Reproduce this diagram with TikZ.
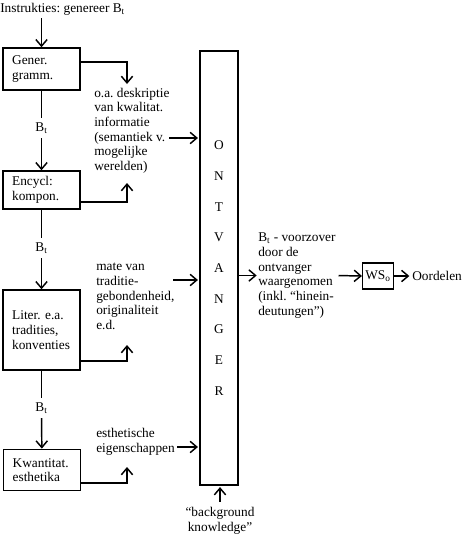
\documentclass[tikz,border=0pt]{standalone}
\usepackage{fontspec}
\setmainfont{Liberation Serif}
\usetikzlibrary{arrows.meta}
\frenchspacing

\begin{document}
\begin{tikzpicture}[x=0.75pt,y=-0.75pt,
        font=\fontsize{10}{11}\selectfont,
        arr/.style={-{Straight Barb[length=5pt,width=8.5pt]},line width=1.1pt},
        lijn/.style={line width=1.1pt},
        blok/.style={draw,line width=1.1pt,align=left,text width=44pt,inner xsep=7pt,minimum width=57.75pt},
        tekst/.style={align=left,anchor=west,inner sep=0pt}]
        \useasboundingbox (0,0) rectangle (470,536);

        % linker kolom
        \node[anchor=west,inner sep=0pt] (instr) at (0,9) {Instrukties: genereer B\textsubscript{t}};
        \node[blok,minimum height=31.5pt] (gener) at (41.5,69) {Gener.\\gramm.};
        \node (bt1) at (41.5,128) {B\textsubscript{t}};
        \node[blok,minimum height=28.5pt] (encycl) at (41.5,190) {Encycl:\\kompon.};
        \node (bt2) at (41.5,248) {B\textsubscript{t}};
        \node[blok,minimum height=60pt] (liter) at (41.5,330) {Liter. e.a.\\tradities,\\konventies};
        \node (bt3) at (41.5,408) {B\textsubscript{t}};
        \node[blok,minimum height=31pt] (kwant) at (42,470) {Kwantitat.\\esthetika};

        % middelste kolom
        \node[tekst] (deskr) at (94,130.5) {o.a. deskriptie\\van kwalitat.\\informatie\\(semantiek v.\\mogelijke\\werelden)};
        \node[tekst] (mate) at (96,296.5) {mate van\\traditie-\\gebondenheid,\\originaliteit\\e.d.};
        \node[tekst] (esthet) at (96,442) {esthetische\\eigenschappen};

        % ontvanger
        \node[draw,line width=1.1pt,minimum width=28.5pt,minimum height=325.5pt,align=center,
            font=\fontsize{10}{23}\selectfont] (ontv) at (219,268) {O\\N\\T\\V\\A\\N\\G\\E\\R};
        \node[align=center] (bk) at (220,521) {“background\\knowledge”};

        % rechter deel
        \node[tekst] (perc) at (258,275.5) {B\textsubscript{t} - voorzover\\door de\\ontvanger\\waargenomen\\(inkl. “hinein-\\deutungen”)};
        \node[draw,line width=1.1pt,minimum width=22.5pt,minimum height=19.5pt,inner sep=2pt] (ws) at (378,276) {WS\textsubscript{o}};
        \node[anchor=west,inner sep=0pt] (oord) at (412,276) {Oordelen};

        % hulppunten
        \coordinate (pA) at (127,84);
        \coordinate (pB) at (127,183);
        \coordinate (pC) at (127,345);
        \coordinate (pD) at (127,467);
        \coordinate (iA) at (169,138);
        \coordinate (iB) at (173,280);
        \coordinate (iC) at (177,447);

        % pijlen links
        \draw[arr,shorten <=2pt] (instr.south -| gener.north) -- (gener.north);
        \draw[lijn] (gener) -- (bt1);
        \draw[arr] (bt1) -- (encycl);
        \draw[lijn] (encycl) -- (bt2);
        \draw[arr] (bt2) -- (liter);
        \draw[lijn] (liter) -- (bt3);
        \draw[arr] (bt3) -- (kwant);

        % pijlen naar de teksten
        \draw[arr] ([yshift=5.25pt]gener.east) -| (pA);
        \draw[arr] ([yshift=-9pt]encycl.east) -| (pB);
        \draw[arr] ([yshift=-23.25pt]liter.east) -| (pC);
        \draw[arr] ([yshift=-9.75pt]kwant.east) -| (pD);

        % pijlen naar de ontvanger
        \draw[arr,shorten >=1pt] (iA) -- (iA -| ontv.west);
        \draw[arr,shorten >=1pt] (iB) -- (iB -| ontv.west);
        \draw[arr,shorten >=1pt] (iC) -- (iC -| ontv.west);
        \draw[arr,shorten <=1pt,shorten >=1pt] (bk.north) -- (bk.north |- ontv.south);

        % uitvoer
        \draw[arr,shorten >=1pt] (ontv.east |- perc.west) -- (perc.west);
        \draw[arr,shorten <=2pt] (perc.east) -- (ws.west);
        \draw[arr,shorten >=2pt] (ws.east) -- (oord.west);
\end{tikzpicture}
\end{document}
